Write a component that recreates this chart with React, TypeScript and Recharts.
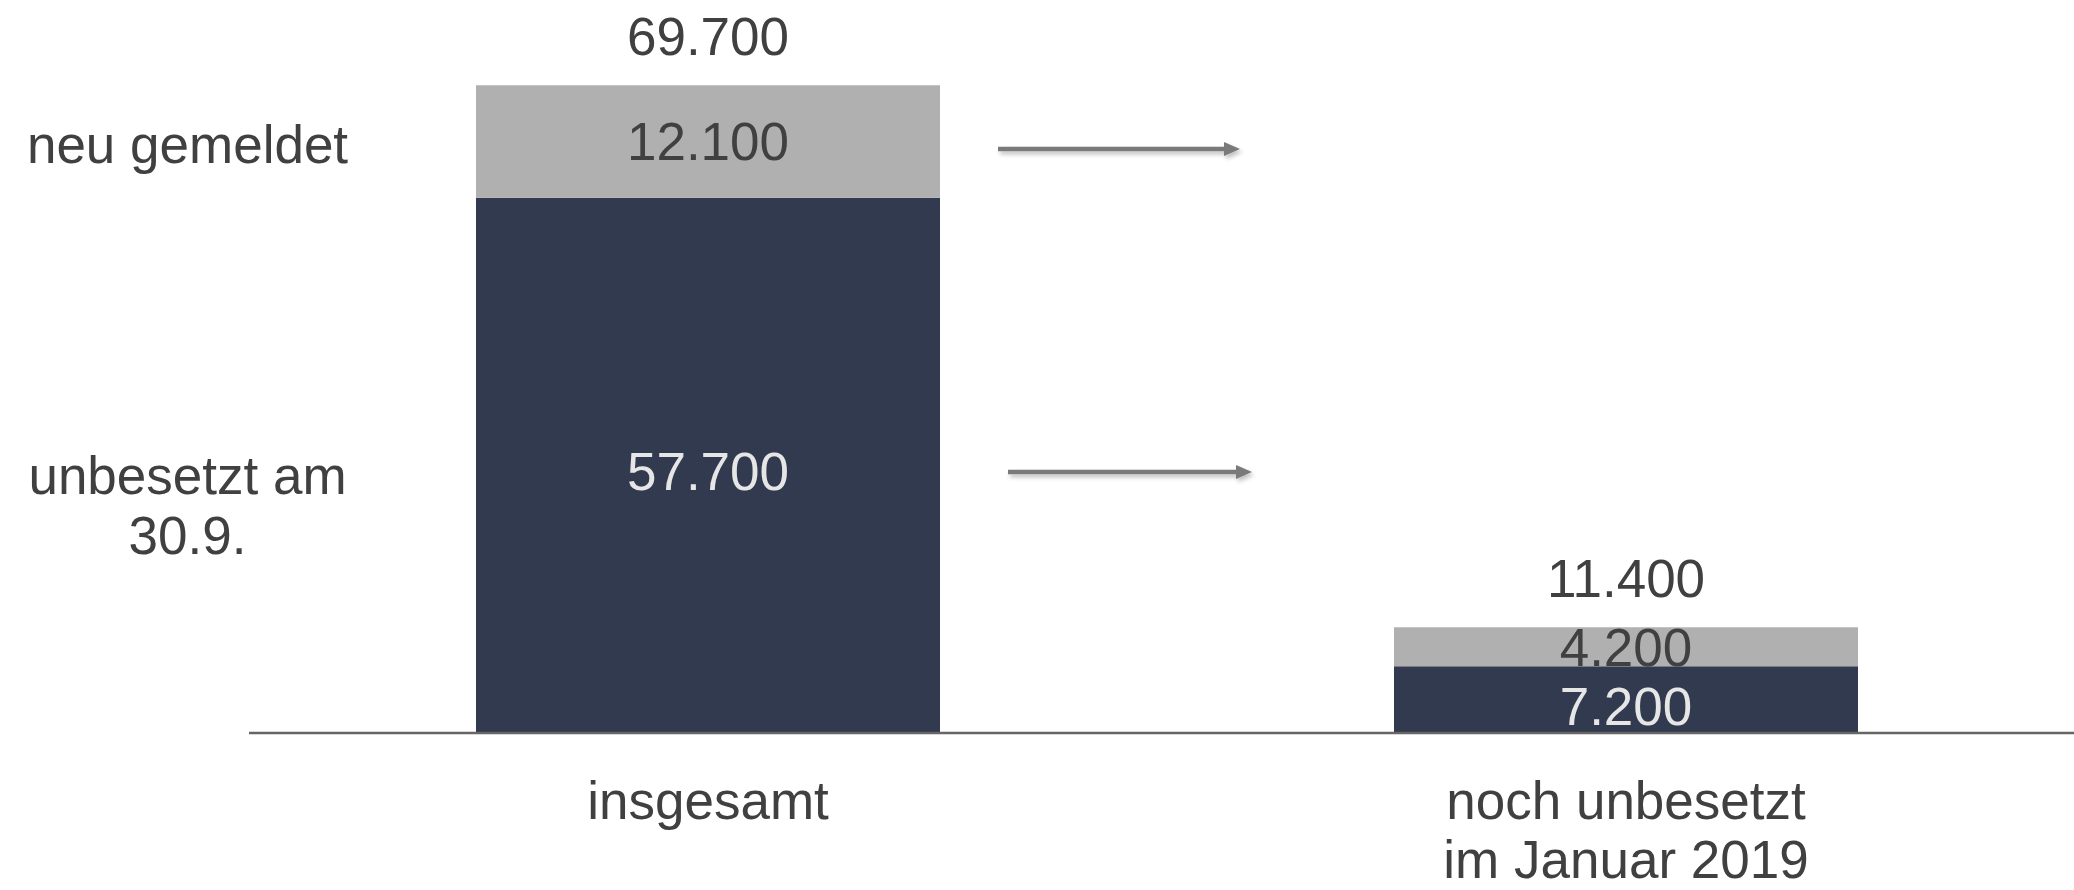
import { BarChart, Bar, XAxis, YAxis, Legend, LabelList } from "recharts";

const categories = ["insgesamt", "noch unbesetzt|im Januar 2019"];
const unbesetzt = [57700, 7200];
const neuGemeldet = [12100, 4200];
const totals = [69700, 11400];
const seriesNames = ["unbesetzt am|30.9.", "neu gemeldet"];

const data = categories.map((name, i) => ({
    name,
    unbesetzt: unbesetzt[i],
    neu: neuGemeldet[i],
    total: totals[i],
}));

const DARK = "#313a4f";
const GREY = "#b0b0b0";
const TEXT = "#404040";
const FONT = "'Liberation Sans', Arial, sans-serif";
const FS = 53;

const fmt = (v: number) => String(v).replace(/\B(?=(\d{3})+(?!\d))/g, ".");

function CategoryTick(props: any) {
    const { x, payload } = props;
    const lines = String(payload.value).split("|");
    return (
        <text x={x} y={733} textAnchor="middle" fill={TEXT} fontSize={FS} fontFamily={FONT}>
            {lines.map((l, i) => (
                <tspan key={i} x={x} y={733 + 86 + i * 59}>{l}</tspan>
            ))}
        </text>
    );
}

function TotalLabel(props: any) {
    const { x, y, width, index } = props;
    return (
        <text x={x + width / 2} y={y - 30} textAnchor="middle" fill={TEXT} fontSize={FS} fontFamily={FONT}>
            {fmt(data[index].total)}
        </text>
    );
}

// dark segment value, sitting a little below the segment's middle
function InnerLabel(props: any) {
    const { x, y, width, height, value } = props;
    return (
        <text x={x + width / 2} y={y + height / 2 + 25} textAnchor="middle" fill="#e6e6e6" fontSize={FS} fontFamily={FONT}>
            {fmt(Number(value))}
        </text>
    );
}

function SeriesLegend() {
    // left-hand series names, aligned to the first bar's segments
    const items = [
        { lines: seriesNames[1].split("|"), top: 115 },
        { lines: seriesNames[0].split("|"), top: 446 },
    ];
    return (
        <div style={{ position: "relative", width: 380, height: 890 }}>
            {items.map((it, i) => (
                <div key={i} style={{
                    position: "absolute", left: 0, width: 375, top: it.top, textAlign: "center",
                    fontFamily: FONT, fontSize: FS, lineHeight: "60px", color: TEXT, whiteSpace: "nowrap",
                }}>
                    {it.lines.map((l, j) => <div key={j}>{l}</div>)}
                </div>
            ))}
        </div>
    );
}

function Arrows() {
    const rows = [{ x1: 998, x2: 1240, y: 149 }, { x1: 1008, x2: 1252, y: 472 }];
    return (
        <svg width={2074} height={890} style={{ position: "absolute", left: 0, top: 0, pointerEvents: "none" }}>
            <defs>
                <filter id="sh" x="-10%" y="-100%" width="120%" height="400%">
                    <feDropShadow dx="2" dy="3" stdDeviation="2" floodColor="#000" floodOpacity="0.25" />
                </filter>
            </defs>
            {rows.map((r, i) => (
                <g key={i} filter="url(#sh)" fill="#7a7a7a" stroke="#7a7a7a">
                    <line x1={r.x1} y1={r.y} x2={r.x2 - 14} y2={r.y} strokeWidth={4.5} />
                    <polygon points={`${r.x2 - 16},${r.y - 7} ${r.x2},${r.y} ${r.x2 - 16},${r.y + 7}`} stroke="none" />
                </g>
            ))}
        </svg>
    );
}

export default function App() {
    return (
        <div style={{ position: "absolute", left: 0, top: 0, width: 2074, height: 890, overflow: "hidden", background: "#fff" }}>
            <BarChart
                width={2085}
                height={890}
                data={data}
                barSize={464}
                margin={{ top: 0, right: 0, left: 249, bottom: 127 }}
            >
                <XAxis
                    dataKey="name"
                    height={30}
                    axisLine={{ stroke: "#666666", strokeWidth: 2.5 }}
                    tickLine={false}
                    tick={<CategoryTick />}
                    interval={0}
                />
                <YAxis hide domain={[0, 79000]} />
                <Legend
                    layout="vertical"
                    align="center"
                    verticalAlign="middle"
                    wrapperStyle={{ position: "absolute", left: 0, top: 0, width: 380, height: 890 }}
                    content={<SeriesLegend />}
                />
                <Bar dataKey="unbesetzt" stackId="a" fill={DARK} isAnimationActive={false}>
                    <LabelList dataKey="unbesetzt" content={<InnerLabel />} />
                </Bar>
                <Bar dataKey="neu" stackId="a" fill={GREY} isAnimationActive={false}>
                    <LabelList dataKey="neu" position="center" formatter={(v: any) => fmt(Number(v))}
                        fill={TEXT} fontSize={FS} fontFamily={FONT} />
                    <LabelList dataKey="total" content={<TotalLabel />} />
                </Bar>
            </BarChart>
            <Arrows />
        </div>
    );
}
